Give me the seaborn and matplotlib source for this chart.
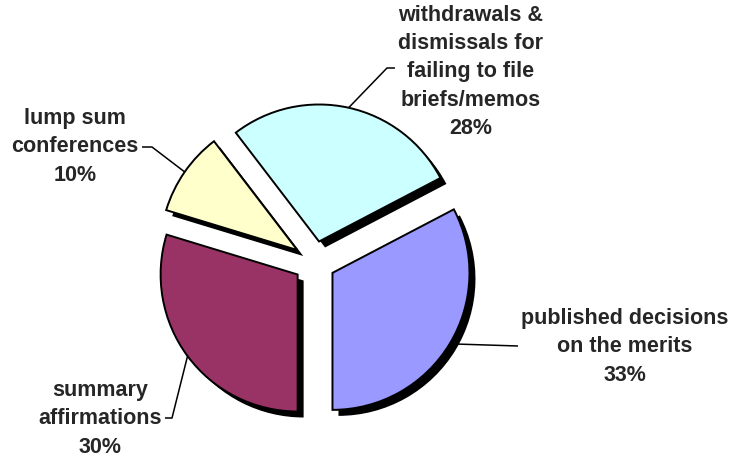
import numpy as np
import seaborn as sns
import matplotlib.pyplot as plt

sns.set_style("white")
plt.rcParams['font.family'] = ['Liberation Sans', 'DejaVu Sans']

# data
categories = ["published decisions\non the merits",
              "withdrawals &\ndismissals for\nfailing to file\nbriefs/memos",
              "lump sum\nconferences",
              "summary\naffirmations"]
shares = [33, 28, 10, 30]
colors = ["#9999FF", "#CCFFFF", "#FFFFCC", "#993366"]

# layout (pixels, y measured from top)
W, H = 730, 459
cx, cy = 314.5, 262
R = 137
gap = 21
shadow = (6, 6)
text_pos = [(625, 347), (471, 72), (75, 147), (100, 419)]
leader = [[(518, 346)],
          [(387, 68), (395, 68)],
          [(152, 147), (142, 147)],
          [(172, 418), (165, 418)]]

fig = plt.figure(figsize=(W / 100, H / 100), dpi=100)
ax = fig.add_axes([0, 0, 1, 1])

# black shadow underneath
ax.pie(shares, radius=R, center=(cx + shadow[0], H - cy - shadow[1]),
       explode=[gap] * len(shares), startangle=-90, counterclock=True,
       colors=['black'] * len(shares), wedgeprops=dict(linewidth=0))
wedges, _ = ax.pie(shares, radius=R, center=(cx, H - cy),
                   explode=[gap] * len(shares), startangle=-90, counterclock=True,
                   colors=colors, wedgeprops=dict(edgecolor='black', linewidth=1.4))

for w, name, val, tp, pts in zip(wedges, categories, shares, text_pos, leader):
    mid = np.deg2rad((w.theta1 + w.theta2) / 2)
    x0 = w.center[0] + w.r * np.cos(mid)
    y0 = w.center[1] + w.r * np.sin(mid)
    xs = [x0] + [p[0] for p in pts]
    ys = [y0] + [H - p[1] for p in pts]
    ax.plot(xs, ys, color='black', lw=1.1, solid_capstyle='butt')
    ax.text(tp[0], H - tp[1], f"{name}\n{val}%", ha='center', va='center',
            fontsize=15.5, fontweight='bold', linespacing=1.45)

ax.set_xlim(0, W)
ax.set_ylim(0, H)
ax.set_aspect('auto')
ax.axis('off')

fig.savefig('out.png', dpi=100, facecolor='white')
